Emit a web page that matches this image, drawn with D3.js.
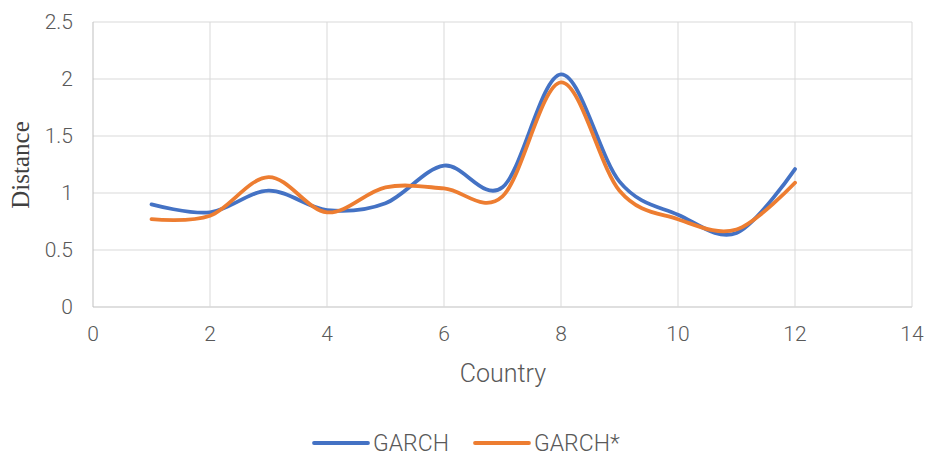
<!DOCTYPE html>
<html><head><meta charset="utf-8">
<script src="https://cdn.jsdelivr.net/npm/d3@7"></script>
<style>body{margin:0;background:#fff}</style>
</head><body>
<svg id="c" width="930" height="457"></svg>
<script>
const countries = [1,2,3,4,5,6,7,8,9,10,11,12];
const garch     = [0.90,0.83,1.02,0.85,0.91,1.24,1.05,2.04,1.10,0.81,0.65,1.21];
const garchStar = [0.77,0.80,1.14,0.83,1.05,1.04,0.97,1.97,1.02,0.77,0.68,1.09];
const xTicks = [0,2,4,6,8,10,12,14];
const yTicks = [0,0.5,1,1.5,2,2.5];
const seriesNames = ["GARCH","GARCH*"];
const colors = ["#4472C4","#ED7D31"];

const svg = d3.select("#c");
const m = {l:93, r:18, t:22, b:150};
const W = 930, H = 457;
const x = d3.scaleLinear().domain([0,14]).range([m.l, W-m.r]);
const y = d3.scaleLinear().domain([0,2.5]).range([H-m.b, m.t]);
const font = "Roboto, 'Noto Sans', sans-serif";

// gridlines
svg.append("g").selectAll("line").data(yTicks).join("line")
  .attr("x1", x(0)).attr("x2", x(14)).attr("y1", d=>y(d)).attr("y2", d=>y(d))
  .attr("stroke", d=> d===0 ? "#bfbfbf" : "#d9d9d9").attr("stroke-width",1);
svg.append("g").selectAll("line").data(xTicks).join("line")
  .attr("y1", y(0)).attr("y2", y(2.5)).attr("x1", d=>x(d)).attr("x2", d=>x(d))
  .attr("stroke", d=> d===0 ? "#bfbfbf" : "#d9d9d9").attr("stroke-width",1);

// tick labels
svg.append("g").selectAll("text").data(yTicks).join("text")
  .attr("x", x(0)-20).attr("y", d=>y(d)).attr("dy","0.35em")
  .attr("text-anchor","end").attr("font-family",font).attr("font-weight",300)
  .attr("font-size",21).attr("fill","#595959").text(d=>d);
svg.append("g").selectAll("text").data(xTicks).join("text")
  .attr("x", d=>x(d)).attr("y", y(0)+27).attr("dy","0.35em")
  .attr("text-anchor","middle").attr("font-family",font).attr("font-weight",300)
  .attr("font-size",21).attr("fill","#595959").text(d=>d);

// axis titles
svg.append("text").attr("transform","translate(29,165) rotate(-90)")
  .attr("text-anchor","middle").attr("font-family","'Liberation Serif', 'Times New Roman', serif")
  .attr("font-size",25).attr("fill","#404040").text("Distance");
svg.append("text").attr("x",503).attr("y",373).attr("dy","0.35em")
  .attr("text-anchor","middle").attr("font-family",font).attr("font-weight",300)
  .attr("font-size",25).attr("fill","#595959").text("Country");

// lines
const line = d3.line().x((d,i)=>x(countries[i])).y(d=>y(d)).curve(d3.curveCatmullRom.alpha(0));
[garch, garchStar].forEach((s,k)=>{
  svg.append("path").datum(s).attr("d", line).attr("fill","none")
    .attr("stroke", colors[k]).attr("stroke-width",3.8).attr("stroke-linecap","round");
});

// legend
const legX = [314, 475];
seriesNames.forEach((n,k)=>{
  svg.append("line").attr("x1",legX[k]).attr("x2",legX[k]+54).attr("y1",443).attr("y2",443)
    .attr("stroke",colors[k]).attr("stroke-width",3.8).attr("stroke-linecap","round");
  svg.append("text").attr("x",legX[k]+59).attr("y",443).attr("dy","0.35em")
    .attr("font-family",font).attr("font-weight",300).attr("font-size",23)
    .attr("fill","#595959").text(n);
});
</script>
</body></html>
